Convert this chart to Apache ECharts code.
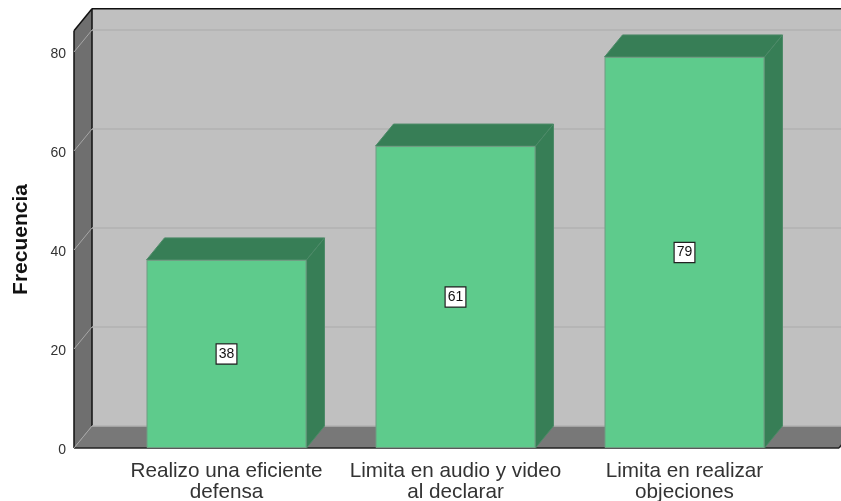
<!DOCTYPE html>
<html><head><meta charset="utf-8">
<style>html,body{margin:0;padding:0;background:#fff}#c{width:841px;height:501px}</style>
<script src="https://cdn.jsdelivr.net/npm/echarts@6/dist/echarts.min.js"></script>
</head><body><div id="c"></div>
<script>
const categories = ['Realizo una eficiente\ndefensa', 'Limita en audio y video\nal declarar', 'Limita en realizar\nobjeciones'];
const frequencies = [38, 61, 79];
const yTicks = [0, 20, 40, 60, 80];
const axisTitle = 'Frecuencia';

const DX = 18, DY = -22;
const LEFT_PAD = 38, RIGHT_PAD = 40, TOP_VALUE = 84.3;
const poly = (points, fill, stroke) => ({
  type: 'polygon', shape: { points },
  style: { fill, stroke: stroke || fill, lineWidth: stroke ? 1 : 0 }
});
const seg = (a, b, stroke, w) => ({
  type: 'line', shape: { x1: a[0], y1: a[1], x2: b[0], y2: b[1] },
  style: { stroke, lineWidth: w || 1 }
});

function renderRoom(params, api) {
  const cs = params.coordSys;
  const l = cs.x - LEFT_PAD, r = cs.x + cs.width + RIGHT_PAD;
  const y0 = api.coord([0, 0])[1];
  const yt = api.coord([0, TOP_VALUE])[1];
  return { type: 'group', silent: true, children: [
    poly([[l + DX, yt + DY], [r + DX, yt + DY], [r + DX, y0 + DY], [l + DX, y0 + DY]], '#c0c0c0'),
    poly([[l, yt], [l + DX, yt + DY], [l + DX, y0 + DY], [l, y0]], '#6f6f6f'),
    poly([[l, y0], [l + DX, y0 + DY], [r + DX, y0 + DY], [r, y0]], '#787878'),
    seg([l, yt], [l + DX, yt + DY], '#111', 1.5),
    seg([l + DX, yt + DY], [r + DX, yt + DY], '#111', 1.5),
    seg([l, yt], [l, y0], '#111', 1.5),
    seg([l + DX, yt + DY], [l + DX, y0 + DY], '#111', 1.5),
    seg([l, y0], [r, y0], '#222', 1.5),
    seg([r, y0], [r + DX, y0 + DY], '#222', 1.5)
  ]};
}
function renderGridLine(params, api) {
  const cs = params.coordSys;
  const l = cs.x - LEFT_PAD, r = cs.x + cs.width + RIGHT_PAD;
  const y = api.coord([0, api.value(1)])[1];
  return { type: 'group', silent: true, children: [
    seg([l, y], [l + DX, y + DY], '#a6a6a6'),
    seg([l + DX, y + DY], [r + DX, y + DY], '#b2b2b2', 1.5)
  ]};
}
function renderBarDepth(params, api) {
  const c = api.coord([api.value(0), api.value(1)]);
  const b = api.coord([api.value(0), 0]);
  const hw = 80;
  return { type: 'group', silent: true, children: [
    poly([[c[0] - hw, c[1]], [c[0] - hw + DX, c[1] + DY], [c[0] + hw + DX, c[1] + DY], [c[0] + hw, c[1]]], '#377e56', '#4d8a68'),
    poly([[c[0] + hw, c[1]], [c[0] + hw + DX, c[1] + DY], [c[0] + hw + DX, b[1] + DY], [c[0] + hw, b[1]]], '#377e56', '#4d8a68')
  ]};
}

const chart = echarts.init(document.getElementById('c'), null, { renderer: 'canvas' });
chart.setOption({
  animation: false,
  backgroundColor: '#fff',
  grid: { left: 112, top: 52, width: 687, height: 396, containLabel: false, outerBoundsMode: 'none' },
  graphic: [{
    type: 'text', x: 21, y: 239.5, rotation: Math.PI / 2, z: 20,
    style: { text: axisTitle, font: 'bold 21px "Liberation Sans", Arial, sans-serif', fill: '#111', align: 'center', verticalAlign: 'middle' }
  }],
  xAxis: {
    type: 'category', data: categories,
    axisLine: { show: false }, axisTick: { show: false }, splitLine: { show: false },
    axisLabel: { interval: 0, margin: 13, color: '#333', fontFamily: '"Liberation Sans", Arial, sans-serif', fontSize: 20.7, lineHeight: 21 }
  },
  yAxis: {
    type: 'value', min: 0, max: 80, interval: 20,
    axisLine: { show: false }, axisTick: { show: false }, splitLine: { show: false },
    axisLabel: { margin: 46, color: '#333', fontFamily: '"Liberation Sans", Arial, sans-serif', fontSize: 14, verticalAlign: 'top', lineHeight: 4 }
  },
  series: [
    { type: 'custom', z: 1, renderItem: renderRoom, data: [[0, 0]], silent: true, clip: false },
    { type: 'custom', z: 2, renderItem: renderGridLine, data: yTicks.map(v => [0, v]), silent: true, clip: false },
    { type: 'custom', z: 3, renderItem: renderBarDepth, data: frequencies.map((v, i) => [i, v]), silent: true, clip: false },
    {
      type: 'bar', z: 4, barWidth: 160, data: frequencies, silent: true,
      itemStyle: { color: '#5ecb8c', borderColor: '#6f9c82', borderWidth: 1 },
      label: {
        show: true, position: 'inside', color: '#111',
        fontFamily: '"Liberation Sans", Arial, sans-serif', fontSize: 14,
        backgroundColor: '#fff', borderColor: '#222', borderWidth: 1.2,
        padding: [3, 2, 2, 2]
      }
    }
  ]
});
</script></body></html>
